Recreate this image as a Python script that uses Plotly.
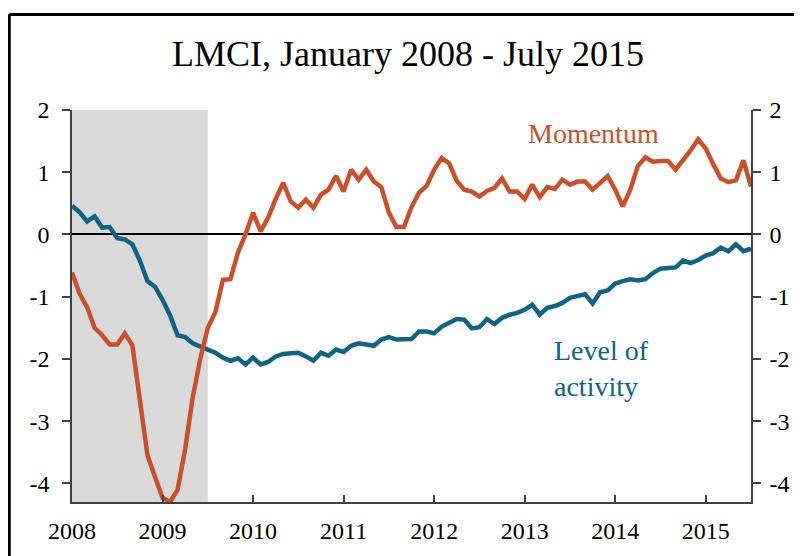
import plotly.graph_objects as go

# ---- data (monthly, Jan 2008 .. Jul 2015) ----
start_year = 2008
n_months = 91
level_of_activity = [
    0.46, 0.36, 0.21, 0.29, 0.11, 0.12, -0.06, -0.08, -0.16, -0.42,
    -0.75, -0.84, -1.05, -1.30, -1.62, -1.65, -1.75, -1.81, -1.85, -1.90,
    -1.98, -2.03, -1.99, -2.09, -1.98, -2.09, -2.05, -1.96, -1.92, -1.91,
    -1.90, -1.96, -2.03, -1.90, -1.95, -1.85, -1.89, -1.79, -1.75, -1.77,
    -1.79, -1.69, -1.65, -1.69, -1.69, -1.68, -1.56, -1.56, -1.59, -1.48,
    -1.42, -1.36, -1.37, -1.51, -1.49, -1.36, -1.44, -1.34, -1.29, -1.26,
    -1.21, -1.13, -1.29, -1.18, -1.15, -1.10, -1.02, -0.99, -0.96, -1.11,
    -0.93, -0.90, -0.79, -0.75, -0.72, -0.74, -0.72, -0.62, -0.55, -0.54,
    -0.53, -0.42, -0.46, -0.41, -0.34, -0.30, -0.21, -0.27, -0.16, -0.27,
    -0.23,
]
momentum = [
    -0.61, -0.95, -1.17, -1.50, -1.62, -1.77, -1.77, -1.59, -1.78, -2.65,
    -3.55, -3.90, -4.23, -4.30, -4.10, -3.45, -2.62, -2.00, -1.50, -1.25,
    -0.73, -0.72, -0.29, 0.00, 0.35, 0.05, 0.27, 0.57, 0.83, 0.53,
    0.43, 0.56, 0.43, 0.64, 0.72, 0.94, 0.69, 1.04, 0.88, 1.04,
    0.85, 0.76, 0.35, 0.12, 0.12, 0.44, 0.67, 0.78, 1.04, 1.23,
    1.14, 0.86, 0.72, 0.69, 0.61, 0.70, 0.75, 0.90, 0.69, 0.69,
    0.57, 0.80, 0.60, 0.76, 0.73, 0.88, 0.80, 0.85, 0.85, 0.72,
    0.82, 0.94, 0.72, 0.45, 0.72, 1.10, 1.24, 1.17, 1.18, 1.18,
    1.04, 1.19, 1.35, 1.53, 1.38, 1.13, 0.90, 0.84, 0.87, 1.19,
    0.77,
]
x_years = [start_year + i / 12 for i in range(n_months)]
year_ticks = [2008, 2009, 2010, 2011, 2012, 2013, 2014, 2015]
year_labels = [str(y) for y in year_ticks]
y_ticks = [2, 1, 0, -1, -2, -3, -4]
y_labels = [str(v) for v in y_ticks]
recession = (2008.0, 2009.5)
y_range = [-4.3, 2.0]
x_range = [2008.0, 2015.5]

title_text = "LMCI, January 2008 - July 2015"

# ---- style ----
ORANGE = "#c9502a"
TEAL = "#0e6482"
FONT = "Liberation Serif"
AXC = "#404040"
OFF = 8                      # page body margin
W, H = 802 - OFF, 556 - OFF
L, R, T, B = 72 - OFF, 46, 110 - OFF, 51
pw, ph = W - L - R, H - T - B

def px_x(p):
    return (p - OFF - L) / pw

def px_y(p):
    return (H - B - (p - OFF)) / ph

fig = go.Figure()
fig.add_trace(go.Scatter(x=x_years, y=level_of_activity, mode="lines",
                         line=dict(color=TEAL, width=4.5), name="Level of activity",
                         showlegend=False, yaxis="y"))
fig.add_trace(go.Scatter(x=x_years, y=momentum, mode="lines",
                         line=dict(color=ORANGE, width=4.5), name="Momentum",
                         showlegend=False, yaxis="y2"))

fig.update_layout(
    width=W, height=H,
    margin=dict(l=L, r=R, t=T, b=B, pad=0),
    paper_bgcolor="white", plot_bgcolor="white",
    font=dict(family=FONT, size=24, color="black"),
    title=dict(text=title_text, font=dict(family=FONT, size=36, color="black"),
               x=(408 - OFF) / W, xanchor="center", xref="container",
               y=1 - (53 - OFF) / H, yanchor="middle", yref="container"),
    xaxis=dict(range=x_range, tickvals=year_ticks, ticktext=year_labels,
               ticks="inside", ticklen=7, tickwidth=1.5, tickcolor=AXC,
               showline=True, linecolor=AXC, linewidth=1.5,
               showgrid=False, zeroline=False, fixedrange=True,
               ticklabelstandoff=6,
               tickfont=dict(family=FONT, size=24, color="black")),
    yaxis=dict(range=y_range, tickvals=y_ticks, ticktext=y_labels,
               ticks="outside", ticklen=8, tickwidth=1.5, tickcolor=AXC,
               showline=True, linecolor=AXC, linewidth=1.5,
               showgrid=False, zeroline=True, zerolinecolor="black", zerolinewidth=2,
               ticklabelstandoff=8,
               tickfont=dict(family=FONT, size=24, color="black")),
    yaxis2=dict(range=y_range, tickvals=y_ticks, ticktext=y_labels,
                overlaying="y", side="right", anchor="x",
                ticks="outside", ticklen=8, tickwidth=1.5, tickcolor=AXC,
                showline=True, linecolor=AXC, linewidth=1.5,
                showgrid=False, zeroline=False,
                ticklabelstandoff=4,
                tickfont=dict(family=FONT, size=24, color="black")),
    shapes=[
        dict(type="rect", xref="x", yref="paper", x0=recession[0], x1=recession[1],
             y0=0, y1=1, fillcolor="#d9d9d9", line=dict(width=0), layer="below"),
        dict(type="line", xref="paper", yref="paper",
             x0=px_x(8.8), x1=px_x(8.8), y0=-0.3, y1=px_y(13.5),
             line=dict(color="black", width=3)),
        dict(type="line", xref="paper", yref="paper",
             x0=px_x(8.8), x1=1.2, y0=px_y(13.8), y1=px_y(13.8),
             line=dict(color="black", width=3)),
    ],
    annotations=[
        dict(text="Momentum", xref="paper", yref="paper",
             x=px_x(529), y=px_y(134), xanchor="left", yanchor="middle",
             showarrow=False, font=dict(family=FONT, size=28, color=ORANGE)),
        dict(text="Level of<br>activity", xref="paper", yref="paper",
             x=px_x(556), y=px_y(370), xanchor="left", yanchor="middle", align="left",
             showarrow=False, font=dict(family=FONT, size=28, color=TEAL)),
    ],
)

fig.write_html("out.html")
